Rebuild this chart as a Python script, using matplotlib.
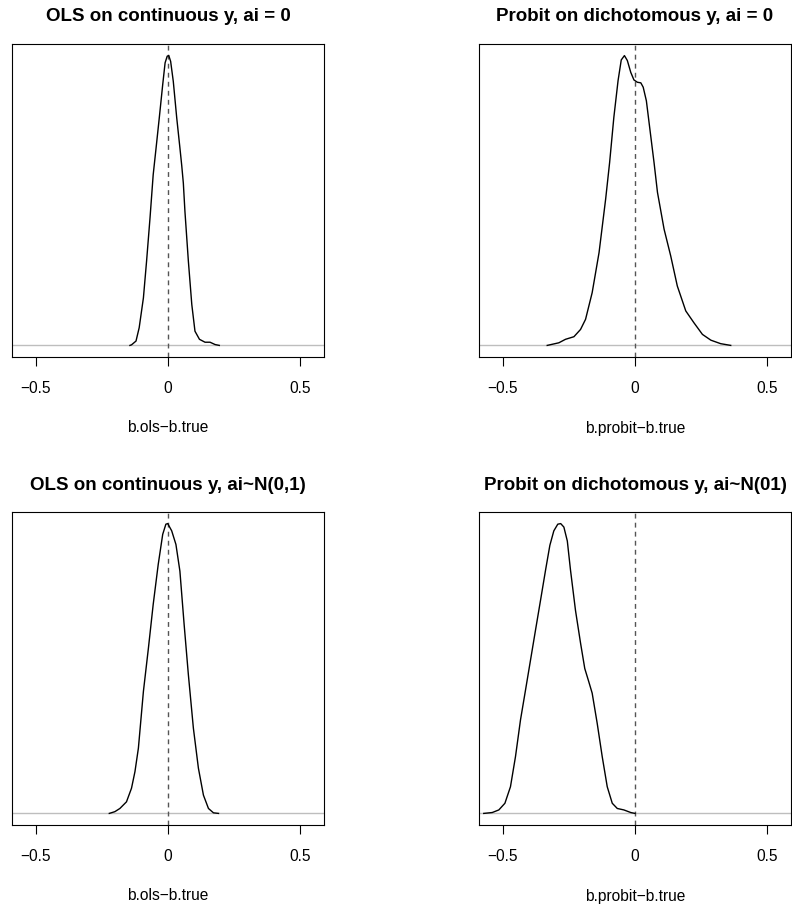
import matplotlib
matplotlib.use("Agg")
import matplotlib.pyplot as plt

plt.rcParams['font.family'] = ['Liberation Sans', 'DejaVu Sans']

titles = ["OLS on continuous y, ai = 0", "Probit on dichotomous y, ai = 0",
          "OLS on continuous y, ai~N(0,1)", "Probit on dichotomous y, ai~N(01)"]
xlabels = ["b.ols\u2212b.true", "b.probit\u2212b.true",
           "b.ols\u2212b.true", "b.probit\u2212b.true"]
tick_vals = [-0.5, 0, 0.5]
tick_labels = ["\u22120.5", "0", "0.5"]

# density curves (relative height, peak = 1)
ols0_x = [-0.144, -0.138, -0.121, -0.109, -0.093, -0.081, -0.068, -0.056, -0.045, -0.033,
          -0.020, -0.011, -0.003, 0.003, 0.010, 0.020, 0.033, 0.045, 0.052, 0.058,
          0.064, 0.077, 0.090, 0.102, 0.119, 0.140, 0.159, 0.178, 0.194]
ols0_y = [0.0, 0.002, 0.015, 0.061, 0.164, 0.291, 0.440, 0.589, 0.682, 0.785,
          0.900, 0.975, 0.998, 1.0, 0.980, 0.911, 0.785, 0.682, 0.620, 0.560,
          0.463, 0.291, 0.141, 0.049, 0.021, 0.011, 0.011, 0.003, 0.0]

prob0_x = [-0.332, -0.288, -0.263, -0.231, -0.206, -0.187, -0.162, -0.136, -0.111, -0.096,
           -0.080, -0.064, -0.052, -0.040, -0.029, -0.016, -0.004, 0.009, 0.022, 0.031,
           0.043, 0.057, 0.072, 0.085, 0.110, 0.135, 0.160, 0.192, 0.223, 0.255,
           0.287, 0.324, 0.362]
prob0_y = [0.0, 0.009, 0.021, 0.030, 0.055, 0.090, 0.182, 0.320, 0.505, 0.631,
           0.787, 0.914, 0.985, 1.0, 0.983, 0.942, 0.916, 0.908, 0.906, 0.891,
           0.844, 0.741, 0.631, 0.528, 0.401, 0.309, 0.205, 0.119, 0.078, 0.038,
           0.018, 0.006, 0.0]

ols1_x = [-0.222, -0.201, -0.182, -0.157, -0.138, -0.125, -0.112, -0.093, -0.074, -0.056,
          -0.037, -0.020, -0.008, -0.001, 0.014, 0.030, 0.045, 0.061, 0.077, 0.096,
          0.115, 0.134, 0.153, 0.172, 0.191]
ols1_y = [0.0, 0.006, 0.017, 0.040, 0.087, 0.144, 0.225, 0.421, 0.571, 0.721,
          0.859, 0.963, 0.998, 1.0, 0.975, 0.928, 0.836, 0.652, 0.479, 0.294,
          0.156, 0.063, 0.017, 0.002, 0.0]

prob1_x = [-0.572, -0.540, -0.515, -0.492, -0.471, -0.452, -0.433, -0.414, -0.395, -0.376,
           -0.357, -0.338, -0.322, -0.307, -0.292, -0.281, -0.269, -0.256, -0.244, -0.225,
           -0.206, -0.190, -0.175, -0.162, -0.143, -0.124, -0.105, -0.086, -0.067, -0.042,
           -0.016, 0.0]
prob1_y = [0.0, 0.003, 0.012, 0.035, 0.092, 0.196, 0.323, 0.426, 0.530, 0.634,
           0.737, 0.841, 0.925, 0.975, 0.998, 1.0, 0.988, 0.940, 0.840, 0.700,
           0.588, 0.500, 0.455, 0.415, 0.311, 0.196, 0.092, 0.035, 0.017, 0.012,
           0.003, 0.0]

curves = [(ols0_x, ols0_y), (prob0_x, prob0_y), (ols1_x, ols1_y), (prob1_x, prob1_y)]

W, H = 792, 907
fig = plt.figure(figsize=(W / 100, H / 100), dpi=100)

# axes boxes in pixels: left, top, width, height
boxes = [(12, 44, 312, 313), (479, 44, 312, 313),
         (12, 512, 312, 313), (479, 512, 312, 313)]

for i in range(4):
    l, t, w, h = boxes[i]
    ax = fig.add_axes([l / W, (H - t - h) / H, w / W, h / H])
    xs, ys = curves[i]
    top = max(ys)
    ax.axhline(0, color='#bebebe', linewidth=1.0, zorder=1)
    ax.axvline(0, color='#555555', linewidth=1.0, dashes=(3.5, 3), zorder=2)
    ax.plot(xs, ys, color='black', linewidth=1.0, zorder=3)
    ax.set_xlim(-0.59, 0.59)
    ax.set_ylim(-0.04 * top, 1.04 * top)
    ax.set_yticks([])
    ax.set_xticks(tick_vals)
    ax.set_xticklabels(tick_labels, fontsize=11.2)
    ax.tick_params(axis='x', length=6.5, width=0.8, pad=11)
    for s in ax.spines.values():
        s.set_linewidth(0.8)
    ax.text(0.5, 1 + 27 / h, titles[i], transform=ax.transAxes, ha='center', va='center',
            fontsize=13.5, fontweight='bold')
    ax.set_xlabel(xlabels[i], fontsize=11.2)
    ax.xaxis.set_label_coords(0.5, -71 / h)
    ax.xaxis.label.set_verticalalignment('center')

fig.savefig("out.png", dpi=100)
